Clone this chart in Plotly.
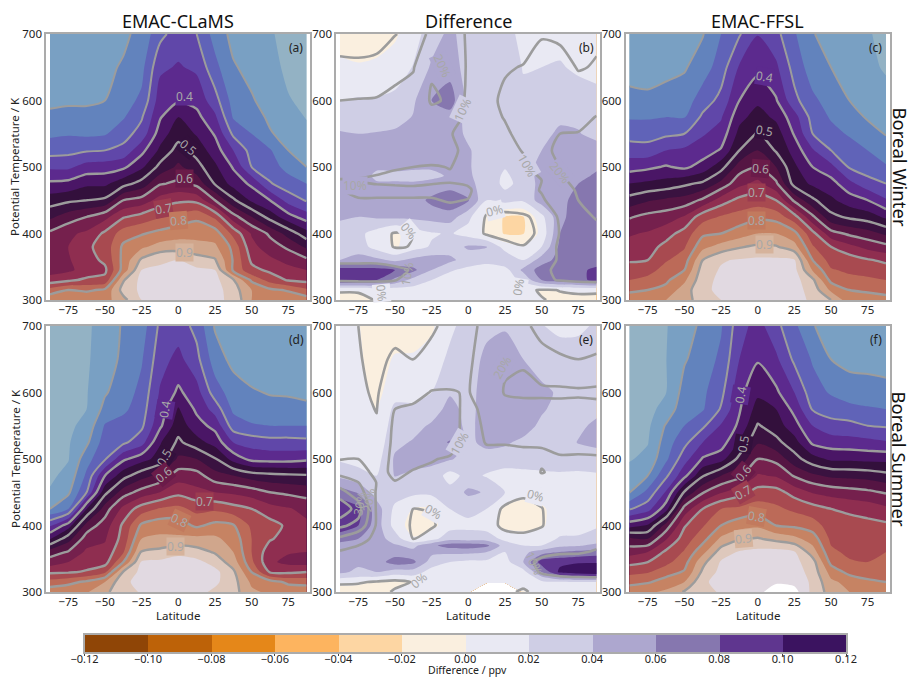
import numpy as np
import plotly.graph_objects as go

LAT = [-87.5, -75, -62.5, -50, -37.5, -25, -12.5, 0, 12.5, 25, 37.5, 50, 62.5, 75, 87.5]
THETA = [700, 650, 600, 575, 550, 525, 500, 475, 450, 425, 400, 380, 360, 345, 330, 315, 300]
THETA_B = [700, 650, 600, 575, 550, 525, 500, 487, 475, 450, 425, 400, 380, 360, 345, 330, 315, 300]
THETA_E = [700, 650, 600, 575, 550, 525, 500, 475, 450, 425, 400, 380, 370, 360, 345, 330, 315, 300]
THETA_REL = [700, 650, 600, 575, 550, 525, 500, 480, 465, 450, 425, 400, 380, 360, 345, 330, 315, 300]
nan = float("nan")

# one inner list per latitude, from 700 K down to 300 K
clams_winter = [
 [.17,.18,.19,.21,.24,.28,.34,.41,.475,.54,.61,.62,.63,.63,.67,.77,.84],
 [.17,.18,.195,.21,.245,.285,.34,.415,.49,.575,.64,.65,.645,.64,.69,.80,.85],
 [.17,.18,.195,.21,.24,.295,.37,.44,.50,.60,.66,.69,.68,.67,.71,.79,.85],
 [.18,.19,.20,.22,.245,.30,.375,.44,.51,.635,.71,.72,.71,.69,.715,.81,.83],
 [.19,.205,.23,.245,.28,.315,.39,.48,.60,.695,.775,.81,.815,.82,.895,.92,.885],
 [.215,.235,.26,.295,.32,.385,.44,.52,.62,.72,.795,.84,.91,.95,.965,.96,.95],
 [.285,.34,.375,.395,.425,.46,.515,.595,.67,.745,.815,.87,.945,.955,.96,.96,.95],
 [.325,.355,.395,.45,.48,.52,.56,.61,.69,.765,.83,.875,.95,.965,.97,.97,.97],
 [.30,.34,.385,.415,.445,.48,.52,.585,.685,.79,.83,.87,.92,.96,.97,.97,.97],
 [.23,.265,.32,.36,.395,.425,.46,.495,.60,.74,.825,.86,.905,.95,.965,.97,.96],
 [.185,.205,.23,.245,.29,.35,.395,.43,.51,.62,.735,.785,.795,.79,.905,.925,.94],
 [.17,.185,.205,.225,.25,.28,.30,.39,.44,.55,.645,.665,.69,.715,.79,.85,.85],
 [.155,.165,.18,.19,.205,.255,.27,.305,.40,.48,.59,.625,.66,.69,.73,.81,.835],
 [.135,.14,.153,.165,.18,.20,.235,.27,.33,.42,.53,.59,.635,.665,.695,.795,.83],
 [.125,.13,.14,.148,.16,.18,.20,.25,.295,.375,.47,.54,.61,.65,.685,.76,.825],
]
ffsl_winter = [
 [.165,.18,.215,.245,.28,.325,.38,.45,.52,.595,.645,.665,.695,.72,.75,.79,.83],
 [.165,.18,.21,.245,.28,.32,.39,.46,.545,.615,.655,.68,.70,.73,.765,.80,.835],
 [.17,.185,.22,.25,.29,.35,.405,.47,.56,.625,.68,.715,.745,.77,.79,.815,.85],
 [.175,.195,.225,.247,.30,.36,.39,.49,.57,.655,.72,.745,.775,.80,.84,.875,.875],
 [.197,.225,.275,.31,.345,.375,.42,.51,.61,.73,.79,.835,.90,.925,.935,.94,.93],
 [.25,.275,.315,.345,.37,.405,.48,.565,.675,.755,.80,.87,.945,.955,.96,.96,.95],
 [.295,.355,.40,.435,.465,.50,.575,.635,.715,.77,.825,.895,.955,.96,.965,.965,.96],
 [.348,.385,.44,.47,.505,.55,.60,.665,.725,.79,.85,.91,.96,.97,.97,.97,.97],
 [.315,.36,.405,.44,.475,.495,.55,.61,.70,.78,.85,.905,.96,.97,.97,.97,.97],
 [.255,.28,.315,.37,.395,.43,.46,.48,.59,.72,.815,.87,.955,.965,.97,.97,.97],
 [.205,.225,.26,.28,.30,.355,.40,.44,.51,.61,.715,.755,.80,.845,.91,.93,.94],
 [.165,.20,.23,.245,.265,.30,.365,.42,.46,.515,.62,.70,.73,.755,.785,.84,.90],
 [.155,.17,.20,.22,.245,.27,.295,.365,.425,.49,.59,.665,.725,.74,.765,.80,.82],
 [.155,.16,.18,.195,.22,.25,.275,.32,.40,.475,.57,.635,.705,.73,.76,.795,.815],
 [.135,.145,.165,.18,.197,.225,.255,.30,.355,.44,.54,.615,.69,.72,.75,.79,.81],
]
clams_summer = [
 [.115,.118,.12,.122,.125,.13,.135,.14,.155,.20,.345,.445,.575,.625,.69,.77,.83],
 [.12,.123,.13,.135,.14,.145,.147,.165,.19,.25,.425,.53,.605,.65,.695,.785,.84],
 [.14,.143,.147,.15,.165,.19,.23,.26,.30,.45,.57,.625,.66,.68,.705,.81,.845],
 [.175,.178,.195,.215,.255,.275,.295,.40,.485,.575,.625,.645,.665,.68,.74,.85,.89],
 [.205,.21,.225,.24,.27,.29,.39,.48,.575,.665,.71,.72,.745,.80,.905,.94,.93],
 [.225,.245,.265,.275,.29,.33,.43,.53,.62,.725,.81,.85,.905,.955,.965,.965,.955],
 [.31,.33,.355,.37,.39,.445,.47,.565,.65,.755,.83,.86,.915,.96,.97,.97,.97],
 [.325,.365,.41,.455,.48,.51,.56,.625,.685,.765,.825,.86,.94,.965,.975,.975,.975],
 [.285,.315,.37,.39,.42,.47,.55,.62,.665,.735,.79,.865,.92,.965,.975,.97,.965],
 [.195,.225,.275,.33,.385,.43,.505,.57,.65,.74,.815,.86,.895,.93,.965,.96,.94],
 [.17,.185,.225,.24,.275,.35,.43,.55,.64,.72,.805,.83,.85,.875,.91,.92,.92],
 [.165,.175,.205,.225,.255,.33,.385,.525,.625,.70,.74,.75,.75,.76,.80,.84,.86],
 [.165,.175,.197,.215,.25,.32,.38,.515,.60,.67,.72,.705,.67,.66,.695,.82,.84],
 [.16,.17,.195,.215,.25,.32,.38,.51,.59,.655,.69,.68,.655,.635,.69,.79,.83],
 [.155,.165,.19,.21,.25,.315,.39,.505,.58,.635,.66,.66,.65,.63,.70,.785,.83],
]
ffsl_summer = [
 [.118,.12,.122,.125,.13,.137,.145,.172,.197,.295,.43,.56,.63,.685,.735,.785,.83],
 [.125,.128,.133,.137,.14,.147,.165,.20,.265,.33,.455,.55,.65,.70,.745,.795,.84],
 [.148,.149,.149,.165,.205,.225,.24,.29,.355,.43,.57,.645,.71,.735,.78,.82,.86],
 [.17,.195,.22,.235,.25,.285,.33,.385,.505,.62,.695,.725,.755,.78,.805,.85,.905],
 [.215,.225,.24,.245,.29,.35,.405,.495,.595,.70,.745,.78,.835,.885,.91,.94,.935],
 [.245,.26,.285,.305,.355,.375,.43,.55,.645,.75,.80,.86,.925,.955,.965,.97,.955],
 [.33,.35,.385,.395,.41,.455,.515,.585,.68,.76,.83,.895,.955,.965,.975,.98,.98],
 [.37,.395,.44,.47,.505,.545,.60,.655,.72,.775,.84,.905,.965,.98,.985,.99,.99],
 [.315,.36,.41,.45,.475,.515,.585,.645,.72,.76,.80,.885,.97,.98,.99,.995,1.02],
 [.26,.29,.35,.385,.42,.47,.52,.595,.68,.74,.79,.865,.955,.965,.975,.985,1.02],
 [.205,.245,.27,.295,.35,.39,.47,.56,.645,.72,.775,.825,.875,.92,.93,.94,.935],
 [.165,.20,.245,.275,.32,.375,.44,.54,.63,.70,.725,.74,.76,.785,.83,.86,.88],
 [.16,.185,.225,.265,.315,.37,.44,.535,.62,.69,.72,.73,.74,.755,.785,.835,.85],
 [.155,.18,.225,.255,.30,.365,.435,.53,.61,.68,.715,.725,.735,.75,.775,.81,.84],
 [.15,.175,.22,.25,.295,.355,.435,.515,.595,.66,.71,.72,.75,.76,.775,.80,.84],
]
diff_winter = [
 [-.01,.005,.02,.03,.042,.045,.05,.05,.05,.05,.043,.03,.032,.04,.09,.085,.002,-.008],
 [-.012,.002,.022,.03,.04,.045,.05,.05,.052,.05,.04,.025,.03,.048,.088,.085,.002,-.006],
 [-.01,.004,.022,.032,.041,.045,.043,.036,.042,.05,.043,.012,.012,.045,.088,.08,.008,.002],
 [-.003,.009,.025,.033,.043,.047,.045,.035,.042,.05,.045,-.004,-.003,.035,.08,.055,.01,.004],
 [.012,.021,.037,.041,.045,.047,.043,.034,.042,.05,.045,.01,.012,.045,.065,.033,.012,.006],
 [.03,.043,.06,.05,.048,.047,.042,.036,.045,.065,.048,.018,.022,.05,.04,.02,.01,.005],
 [.045,.052,.07,.052,.05,.045,.045,.042,.05,.075,.05,.022,.03,.045,.022,.012,.006,.003],
 [.03,.03,.033,.034,.036,.042,.042,.043,.046,.062,.025,.012,.043,.03,.015,.012,.008,.005],
 [.03,.03,.03,.03,.03,.03,.03,.03,.03,.02,-.004,-.003,.041,.025,.012,.01,.006,.003],
 [.03,.032,.03,.027,.025,.025,.021,.017,.016,.027,-.022,-.022,.012,.036,.012,.01,.006,.003],
 [.012,.019,.024,.027,.028,.028,.03,.028,.025,.023,-.021,-.021,.002,.02,.045,.025,.004,.004],
 [.01,.02,.028,.03,.032,.04,.047,.048,.048,.05,.014,.006,.02,.05,.07,.06,-.002,.001],
 [.012,.022,.032,.035,.045,.048,.05,.052,.055,.052,.055,.06,.065,.068,.072,.072,.0005,-.003],
 [.011,.016,.031,.037,.041,.05,.052,.056,.06,.07,.07,.07,.07,.07,.075,.075,.004,-.006],
 [.01,.018,.022,.03,.035,.047,.058,.062,.065,.07,.072,.072,.07,.07,.085,.085,.004,-.007],
]
diff_summer = [
 [.012,.012,.012,.012,.013,.014,.017,.035,.07,.095,.095,.065,.055,.05,.05,.045,.005,-.008],
 [.001,.003,.006,.008,.01,.012,.015,.025,.058,.085,.08,.06,.052,.048,.045,.035,.004,-.01],
 [-.01,-.008,-.006,-.001,.004,.008,.012,.02,.03,.05,.05,.05,.05,.05,.05,.04,-.002,-.01],
 [-.01,.002,.012,.025,.03,.035,.043,.041,.03,.015,.012,.03,.042,.05,.07,.03,-.006,.003],
 [-.008,.002,.012,.025,.033,.042,.05,.035,.025,-.001,-.01,.002,.035,.045,.065,.03,.002,.006],
 [-.003,.008,.02,.03,.043,.055,.045,.033,.025,-.001,-.006,.012,.055,.045,.03,.012,.008,.005],
 [.015,.025,.038,.047,.052,.061,.042,.012,.027,.02,.012,.033,.07,.045,.02,.012,.008,.005],
 [.03,.03,.032,.033,.034,.036,.032,.027,.044,.026,.015,.03,.072,.045,.015,.01,.006,.003],
 [.035,.045,.05,.05,.05,.045,.032,.018,.038,.02,.012,.03,.065,.04,.015,.01,.006,nan],
 [.039,.045,.05,.05,.046,.043,.03,.012,.02,-.006,-.006,.015,.03,.02,.012,.01,.007,nan],
 [.03,.04,.052,.05,.05,.035,.028,.015,.008,-.01,-.01,.012,.02,.035,.04,.012,.006,-.001],
 [.021,.03,.045,.043,.035,.03,.027,.017,.012,-.004,-.003,.012,.02,.05,.09,.06,.015,.006],
 [.015,.03,.037,.032,.032,.03,.027,.018,.015,.012,.012,.022,.035,.06,.095,.105,.018,.006],
 [.017,.027,.033,.032,.036,.041,.028,.017,.014,.012,.012,.023,.038,.065,.098,.115,.02,.006],
 [.022,.03,.035,.035,.044,.045,.03,.018,.015,.017,.018,.028,.045,.07,.098,.118,.02,.006],
]
rel_winter = [
 [-.02,.01,.10,.13,.14,.14,.13,.097,.095,.08,.06,.035,.045,.08,.14,.11,.004,-.012],
 [-.02,.008,.105,.13,.14,.145,.13,.095,.115,.095,.06,.025,.035,.08,.14,.115,.004,-.01],
 [-.015,.01,.11,.13,.14,.145,.115,.09,.115,.095,.06,.02,.03,.08,.14,.115,.01,.002],
 [-.004,.07,.125,.14,.145,.15,.105,.085,.115,.095,.07,-.004,-.004,.06,.125,.105,.015,.005],
 [.03,.095,.13,.15,.15,.14,.10,.08,.115,.095,.07,.0,.002,.06,.09,.06,.015,.01],
 [.13,.19,.21,.17,.16,.14,.095,.09,.115,.095,.07,.03,.03,.06,.05,.03,.015,.01],
 [.16,.19,.19,.16,.105,.12,.102,.09,.13,.105,.07,.04,.05,.06,.035,.02,.012,.008],
 [.085,.085,.075,.07,.07,.075,.08,.085,.11,.098,.05,.02,.06,.05,.03,.02,.012,.008],
 [.07,.07,.07,.07,.065,.06,.06,.065,.055,.03,-.005,-.004,.04,.04,.025,.018,.012,.008],
 [.055,.09,.12,.105,.085,.07,.05,.035,.055,.05,-.02,-.02,.02,.055,.025,.018,.012,.008],
 [.05,.105,.14,.14,.13,.105,.08,.07,.07,.05,-.01,-.015,.002,.05,.08,.05,.005,.005],
 [.095,.125,.15,.16,.17,.175,.17,.10,.105,.09,.02,.01,.04,.08,.09,.085,-.002,.001],
 [.085,.13,.15,.18,.2,.22,.2,.17,.16,.14,.115,.105,.115,.105,.11,.105,.0005,-.003],
 [.07,.095,.14,.16,.205,.24,.26,.25,.21,.2,.18,.17,.165,.15,.14,.12,.004,-.006],
 [.09,.105,.14,.205,.21,.24,.27,.27,.25,.23,.205,.18,.16,.15,.165,.125,.004,-.007],
]
rel_summer = [
 [.015,.02,.03,.04,.05,.07,.095,.17,.26,.33,.5,.32,.18,.09,.08,.07,.005,-.015],
 [.0,.004,.01,.015,.02,.04,.1,.14,.2,.25,.34,.27,.115,.085,.075,.06,.003,-.015],
 [-.02,-.015,-.008,-.002,.006,.02,.05,.075,.097,.09,.088,.09,.09,.08,.075,.055,-.003,-.015],
 [-.02,.01,.06,.1,.12,.125,.125,.115,.097,.085,.06,.05,.075,.085,.09,.05,-.01,.005],
 [-.018,-.001,.07,.115,.13,.14,.12,.095,.075,.055,-.001,-.012,-.001,.07,.085,.02,.002,.01],
 [-.01,.02,.105,.14,.16,.165,.105,.085,.07,.05,.003,-.008,.03,.07,.04,.02,.012,.008],
 [.02,.05,.105,.13,.14,.14,.09,.07,.04,.06,.05,.03,.05,.075,.03,.02,.01,.008],
 [.07,.08,.095,.075,.065,.06,.05,.04,.05,.07,.05,.03,.055,.07,.025,.015,.01,.006],
 [.13,.16,.15,.125,.115,.105,.07,.035,.03,.06,.04,.02,.05,.06,.025,.015,.008,.006],
 [.15,.19,.205,.175,.14,.105,.07,.03,.03,.04,-.012,-.012,.02,.03,.015,.012,.008,.006],
 [.12,.19,.22,.16,.14,.108,.08,.04,.03,.01,-.018,-.018,.015,.04,.065,.02,.008,-.004],
 [.07,.13,.22,.16,.14,.105,.09,.104,.06,.03,-.003,-.004,.03,.07,.125,.115,.02,.01],
 [.05,.11,.22,.165,.14,.115,.095,.08,.06,.05,.045,.04,.05,.09,.14,.15,.03,.01],
 [.045,.10,.215,.165,.15,.125,.09,.08,.06,.05,.045,.04,.05,.09,.15,.17,.03,.01],
 [.05,.11,.22,.17,.155,.135,.09,.075,.065,.055,.05,.05,.065,.11,.155,.175,.03,.01],
]

# contour labels: text, latitude, theta, angle, band colour behind the text
C = {"p35": "#5C2A8E", "d": "#33103C", "m60": "#6A1B49", "r70": "#9C3C50", "r75": "#C27A5E", "o85": "#D6B39C",
     "l0": "#E9E9F3", "l2": "#CFCEE5", "l4": "#ADA7CF", "none": "rgba(0,0,0,0)"}
labels_a = [("0.4", 4, 606, 0, "p35"), ("0.5", 7, 530, 40, "d"), ("0.6", 4, 482, 0, "m60"),
            ("0.7", -10, 438, -10, "r70"), ("0.8", 0, 420, -5, "r75"), ("0.9", 4, 371, 0, "o85")]
labels_b = [("20%", -18, 652, 65, "l4"), ("10%", -4, 587, -65, "l2"), ("10%", 40, 502, 60, "l2"),
            ("20%", 62.5, 492, 50, "l4"), ("10%", -77, 472, 0, "l4"), ("0%", 18, 435, -15, "l0"),
            ("0%", -41, 404, 50, "l0"), ("10%", -42, 339, -80, "none"), ("0%", -59, 310, 85, "l0"),
            ("0%", 34, 319, -80, "l0")]
labels_c = [("0.4", 4.5, 636, 10, "p35"), ("0.5", 4.5, 555, 10, "d"), ("0.6", 2, 498, 5, "m60"),
            ("0.7", -1, 462, 0, "r70"), ("0.8", -1, 420, 0, "r75"), ("0.9", 4.5, 384, 0, "o85")]
labels_d = [("0.4", -9, 574, -80, "p35"), ("0.5", -10, 503, -60, "d"), ("0.6", -10, 477, -40, "m60"),
            ("0.7", 18, 436, 0, "r70"), ("0.8", 1, 408, 25, "r75"), ("0.9", -2, 369, 0, "o85")]
labels_e = [("20%", 23, 638, -60, "l4"), ("10%", -6, 523, -60, "l2"), ("30%", -74, 433, -80, "none"),
            ("20%", -68, 438, -80, "none"), ("0%", -24, 421, 30, "l0"), ("0%", 46, 445, 15, "l0"),
            ("0%", -34, 318, -40, "none"), ("10%", 45, 343, 65, "none")]
labels_f = [("0.4", -12, 596, -80, "p35"), ("0.5", -10, 522, -80, "d"), ("0.6", -10, 478, -50, "m60"),
            ("0.7", -10, 449, -30, "r70"), ("0.8", -1, 414, 10, "r75"), ("0.9", -10, 381, -5, "o85")]
panel_labels = [labels_a, labels_b, labels_c, labels_d, labels_e, labels_f]

# fill colours, one per band of 0.05 ppv from 0.10 to 1.00
PPV_COLORS = ["#93B2C4", "#79A0C3", "#6283BD", "#6063B8", "#6047A9", "#5C2A8E", "#4A1666",
              "#33103C", "#3A1240", "#551543", "#75204D", "#8F2E50", "#A84A50", "#BC6A58",
              "#C68363", "#D0A68C", "#DEC8BC", "#E1D9E1"]
DIFF_COLORS = ["#8F4506", "#BD6208", "#E58719", "#FDB45F", "#FDD6A3", "#FAEFDF",
               "#E9E9F3", "#CFCEE5", "#ADA7CF", "#8677AF", "#5F368F", "#3B1360"]
DIFF_EDGES = [-.12, -.10, -.08, -.06, -.04, -.02, 0, .02, .04, .06, .08, .10, .12]
DIFF_MIDS = [-.11, -.09, -.07, -.05, -.03, -.01, .01, .03, .05, .07, .09, .11]
LINE = "#9C9C9C"
FRAME = "#ABABAB"
FONT = "Noto Sans"


def step_scale(colors):
    n = len(colors)
    out = []
    for i, c in enumerate(colors):
        out += [[i / n, c], [(i + 1) / n, c]]
    return out


W, H = 912, 678
PANELS_X = [(46.3, 310.3), (336.3, 600.3), (625.7, 889.7)]
PANELS_Y = [(34, 300), (326, 592)]

fig = go.Figure()


def fill_trace(z, y, colors, start, end, size, ax):
    fig.add_trace(go.Contour(
        x=LAT, y=y[::-1], z=np.array(z, float).T[::-1],
        autocontour=False, contours=dict(start=start, end=end, size=size, coloring="fill", showlines=False),
        colorscale=step_scale(colors), showscale=False, line=dict(width=0, smoothing=0.7),
        hoverinfo="skip", xaxis=f"x{ax}", yaxis=f"y{ax}"))


def line_trace(z, y, start, end, size, ax, width):
    fig.add_trace(go.Contour(
        x=LAT, y=y[::-1], z=np.array(z, float).T[::-1],
        autocontour=False,
        contours=dict(start=start, end=end, size=size, coloring="none"),
        showscale=False, line=dict(color=LINE, width=width, smoothing=0.7),
        hoverinfo="skip", xaxis=f"x{ax}", yaxis=f"y{ax}"))


def paper_text(text, x, y, size, color="#222", angle=0):
    return dict(text=text, x=x / W, y=1 - y / H, xref="paper", yref="paper", showarrow=False,
                xanchor="center", yanchor="middle", textangle=angle,
                font=dict(family=FONT, size=size, color=color))


ppv_bands = [PPV_COLORS[0]] + PPV_COLORS + ["#FFFFFF"]
diff_bands = [DIFF_COLORS[0]] + DIFF_COLORS + [DIFF_COLORS[-1]]

rows = [(clams_winter, diff_winter, rel_winter, ffsl_winter, THETA_B),
        (clams_summer, diff_summer, rel_summer, ffsl_summer, THETA_E)]
ax = 1
letters = iter("abcdef")
annotations = []
layout = {}
for r, (left, diff, rel, right, diff_y) in enumerate(rows):
    y0, y1 = PANELS_Y[r]
    for c in range(3):
        if c == 1:
            fill_trace(diff, diff_y, diff_bands, -.12, .12, .02, ax)
            line_trace(rel, THETA_REL, 0, .4, .1, ax, 2.6)
        else:
            data = left if c == 0 else right
            fill_trace(data, THETA, ppv_bands, .10, 1.0, .05, ax)
            line_trace(data, THETA, .2, .3, .1, ax, 2)
            line_trace(data, THETA, .4, .9, .1, ax, 2.4)
        x0, x1 = PANELS_X[c]
        sfx = "" if ax == 1 else str(ax)
        layout[f"xaxis{sfx}"] = dict(
            domain=[x0 / W, x1 / W], range=[-90, 90], tickvals=[-75, -50, -25, 0, 25, 50, 75],
            tickformat="d", showgrid=False, zeroline=False, showline=True, mirror=True,
            linecolor=FRAME, linewidth=2, ticks="", anchor=f"y{sfx}", automargin=False, ticklabelstandoff=-2,
            tickfont=dict(family=FONT, size=11.5, color="#222"))
        layout[f"yaxis{sfx}"] = dict(
            domain=[1 - y1 / H, 1 - y0 / H], range=[300, 700], tickvals=[300, 400, 500, 600, 700],
            showgrid=False, zeroline=False, showline=True, mirror=True,
            linecolor=FRAME, linewidth=2, ticks="", anchor=f"x{sfx}", automargin=False,
            tickfont=dict(family=FONT, size=11.5, color="#222"))
        annotations.append(paper_text(f"({next(letters)})", x1 - 14, y0 + 13, 12))
        if r == 1:
            annotations.append(paper_text("Latitude", (x0 + x1) / 2, 615.5, 11.5))
        if c == 0:
            annotations.append(paper_text("Potential Temperature / K", 15, (y0 + y1) / 2, 11.5, angle=-90))
        for text, lat, theta, angle, band in panel_labels[ax - 1]:
            annotations.append(dict(text=text, x=lat, y=theta, xref=f"x{ax}", yref=f"y{ax}", showarrow=False,
                                    textangle=angle, bgcolor=C[band], borderpad=0,
                                    font=dict(family=FONT, size=12, color="#A8A8A8")))
        ax += 1

# colour bar drawn as its own small axis
fig.add_trace(go.Heatmap(x=DIFF_MIDS, y=[0], z=[DIFF_MIDS], zmin=-.12, zmax=.12,
                         colorscale=step_scale(DIFF_COLORS), showscale=False, hoverinfo="skip",
                         xaxis="x7", yaxis="y7"))
layout["xaxis7"] = dict(domain=[84.5 / W, 846 / W], range=[-.12, .12], tickvals=DIFF_EDGES, tickformat=".2f",
                        showgrid=False, zeroline=False, showline=True, mirror=True, linecolor=FRAME, linewidth=1.5,
                        ticks="outside", ticklen=2, tickcolor="#444", anchor="y7", automargin=False,
                        ticklabelstandoff=-6, tickfont=dict(family=FONT, size=11, color="#222"))
layout["yaxis7"] = dict(domain=[1 - 652 / H, 1 - 635 / H], showticklabels=False, showgrid=False, zeroline=False,
                        showline=True, mirror=True, linecolor=FRAME, linewidth=1.5, ticks="", anchor="x7",
                        automargin=False)
annotations.append(paper_text("Difference / ppv", 467.7, 670, 10.5))

for text, xc in zip(["EMAC-CLaMS", "Difference", "EMAC-FFSL"], [178.3, 468.3, 757.7]):
    annotations.append(paper_text(text, xc, 21, 18, "#111"))
for text, yc in zip(["Boreal Winter", "Boreal Summer"], [167, 459]):
    annotations.append(paper_text(text, 899.5, yc, 18.5, "#111", 90))

fig.update_layout(width=W, height=H, autosize=False, margin=dict(l=0, r=0, t=0, b=0), paper_bgcolor="white",
                  plot_bgcolor="white", showlegend=False, annotations=annotations,
                  font=dict(family=FONT), **layout)
fig.write_html("out.html", config=dict(displayModeBar=False), post_script="document.body.style.margin='0';")
